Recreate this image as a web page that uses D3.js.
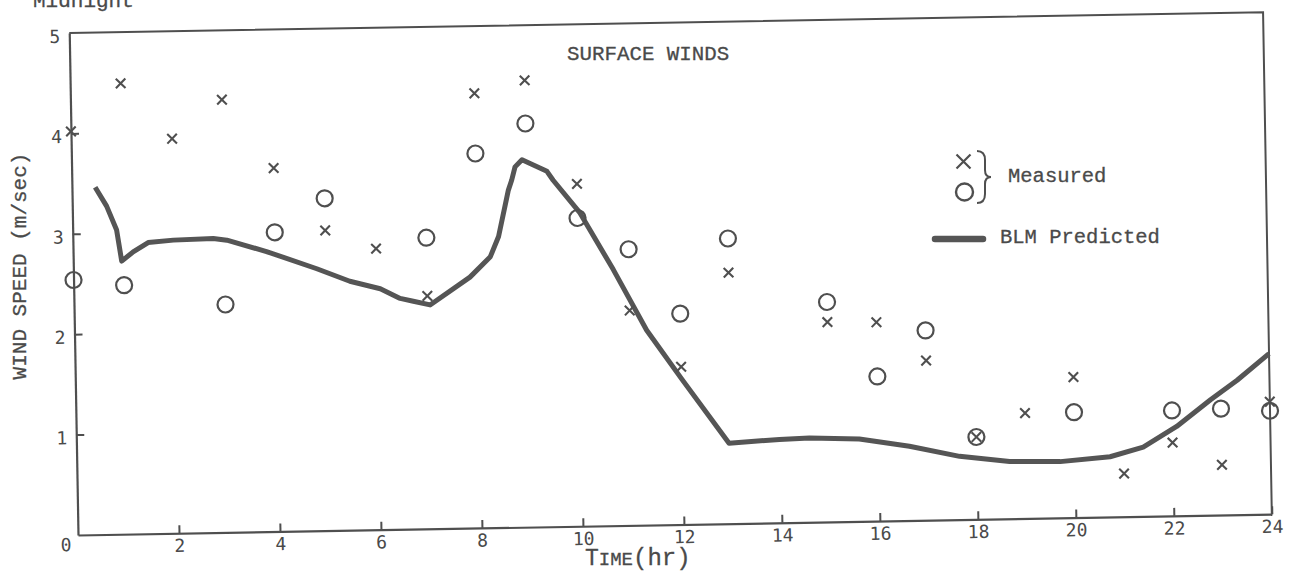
<!DOCTYPE html>
<html>
<head>
<meta charset="utf-8">
<script src="https://cdn.jsdelivr.net/npm/d3@7"></script>
<style>
  body { margin: 0; background: #fff; }
  svg { display: block; }
  .tick text { font-family: "DejaVu Sans Mono", monospace; font-size: 18px; fill: #4a4a4a; }
  .typed { font-family: "Liberation Mono", "Courier New", monospace; fill: #4a4a4a; stroke: #4a4a4a; stroke-width: 0.3px; }
</style>
</head>
<body>
<div class="chart"></div>
<script>
var svgWidth = 1303;
var svgHeight = 574;
var ink = "#4f4f4f";

// measured winds, "x" marks
var crossHours  = [0, 1, 2, 3, 4, 5, 6, 7, 8, 9, 10, 11, 12, 13, 15, 16, 17, 18, 19, 20, 21, 22, 23, 24];
var crossSpeeds = [4.02, 4.49, 3.93, 4.31, 3.62, 2.99, 2.80, 2.32, 4.33, 4.45, 3.41, 2.14, 1.57, 2.50,
                   1.99, 1.98, 1.59, 0.82, 1.05, 1.40, 0.43, 0.73, 0.50, 1.12];

// measured winds, "o" marks
var circleHours  = [0, 1, 3, 4, 5, 7, 8, 9, 10, 11, 12, 13, 15, 16, 17, 18, 20, 22, 23, 24];
var circleSpeeds = [2.54, 2.48, 2.27, 2.98, 3.31, 2.90, 3.73, 4.02, 3.07, 2.75, 2.10, 2.84,
                    2.19, 1.44, 1.89, 0.82, 1.05, 1.05, 1.06, 1.03];

// BLM predicted curve
var blmHours  = [0.46, 0.68, 0.87, 0.96, 1.19, 1.49, 1.99, 2.78, 3.05, 3.83, 4.82, 5.47, 6.07, 6.46, 6.72,
                 7.05, 7.85, 8.26, 8.43, 8.64, 8.71, 8.78, 8.92, 9.41, 9.53, 10.05, 10.69, 11.33, 12.02,
                 12.95, 13.98, 14.59, 15.61, 16.63, 17.65, 18.67, 19.70, 20.72, 21.40, 22.09, 22.79, 23.34, 24.0];
var blmSpeeds = [3.46, 3.27, 3.03, 2.72, 2.81, 2.90, 2.92, 2.93, 2.91, 2.79, 2.61, 2.48, 2.40, 2.30, 2.27,
                 2.23, 2.50, 2.70, 2.90, 3.36, 3.46, 3.59, 3.66, 3.54, 3.45, 3.12, 2.55, 1.94, 1.44,
                 0.80, 0.83, 0.84, 0.82, 0.74, 0.63, 0.57, 0.56, 0.60, 0.69, 0.89, 1.15, 1.34, 1.60];

var xTicks = [2, 4, 6, 8, 10, 12, 14, 16, 18, 20, 22, 24];
var yTicks = [1, 2, 3, 4, 5];

var svg = d3.select(".chart").append("svg")
  .attr("width", svgWidth)
  .attr("height", svgHeight);

// the scanned page sits a little tilted, so the plot group is turned by one degree
var chartGroup = svg.append("g")
  .attr("transform", "translate(78,535) rotate(-1)");

// hand drawn axis: the hours are a bit wider before noon than after
var xScale = d3.scaleLinear().domain([0, 12, 24]).range([0, 606, 1194]);
var yScale = d3.scaleLinear().domain([0, 5]).range([0, -502]);

var bottomAxis = d3.axisBottom(xScale)
  .tickValues(xTicks)
  .tickFormat(d3.format("d"))
  .tickSizeInner(-8)
  .tickSizeOuter(0)
  .tickPadding(6);

var leftAxis = d3.axisLeft(yScale)
  .tickValues(yTicks)
  .tickFormat(d3.format("d"))
  .tickSizeInner(-8)
  .tickSizeOuter(0)
  .tickPadding(9);

var xAxis = chartGroup.append("g").call(bottomAxis);
var yAxis = chartGroup.append("g").call(leftAxis);

[xAxis, yAxis].forEach(function(ax) {
  ax.select(".domain").attr("stroke", ink).attr("stroke-width", 2.2);
  ax.selectAll(".tick line").attr("stroke", ink).attr("stroke-width", 2);
});
yAxis.selectAll(".tick text").attr("dy", "0.5em");
yAxis.selectAll(".tick").filter(d => d === 5).select("line").remove();

chartGroup.append("text")
  .attr("x", xScale(0) - 12)
  .attr("y", 16)
  .attr("text-anchor", "middle")
  .style("font-family", "DejaVu Sans Mono")
  .style("font-size", "18px")
  .attr("fill", "#4a4a4a")
  .text("0");

// frame: top and right sides
chartGroup.append("path")
  .attr("d", `M${xScale(0)},${yScale(5)} L${xScale(24)},${yScale(5)} L${xScale(24)},${yScale(0)}`)
  .attr("fill", "none")
  .attr("stroke", ink)
  .attr("stroke-width", 2);

// predicted line
var blmData = blmHours.map((h, i) => ({ hour: h, speed: blmSpeeds[i] }));
var line = d3.line()
  .x(d => xScale(d.hour))
  .y(d => yScale(d.speed));

chartGroup.append("path")
  .datum(blmData)
  .attr("d", line)
  .attr("fill", "none")
  .attr("stroke", "#555")
  .attr("stroke-width", 5)
  .attr("stroke-linejoin", "round");

// measured circles
chartGroup.append("g").selectAll("circle")
  .data(circleHours.map((h, i) => ({ hour: h, speed: circleSpeeds[i] })))
  .enter()
  .append("circle")
  .attr("cx", d => xScale(d.hour))
  .attr("cy", d => yScale(d.speed))
  .attr("r", 8)
  .attr("fill", "none")
  .attr("stroke", ink)
  .attr("stroke-width", 2.2);

// measured crosses
function crossPath(cx, cy, s) {
  return `M${cx - s},${cy - s} L${cx + s},${cy + s} M${cx - s},${cy + s} L${cx + s},${cy - s}`;
}

chartGroup.append("g").selectAll("path")
  .data(crossHours.map((h, i) => ({ hour: h, speed: crossSpeeds[i] })))
  .enter()
  .append("path")
  .attr("d", d => crossPath(xScale(d.hour), yScale(d.speed), 4.8))
  .attr("fill", "none")
  .attr("stroke", ink)
  .attr("stroke-width", 2.1);

// text on the page ("Midnight" is cut by the top of the scan)
svg.append("text")
  .attr("class", "typed")
  .attr("x", 33)
  .attr("y", 7)
  .style("font-size", "21px")
  .text("Midnight");

svg.append("text")
  .attr("class", "typed")
  .attr("x", 567)
  .attr("y", 60)
  .style("font-size", "20.8px")
  .text("SURFACE WINDS");

svg.append("text")
  .attr("class", "typed")
  .attr("transform", "translate(26,266) rotate(-90)")
  .attr("text-anchor", "middle")
  .style("font-size", "21px")
  .text("WIND SPEED (m/sec)");

var timeLabel = svg.append("text")
  .attr("class", "typed")
  .attr("x", 585)
  .attr("y", 565);
timeLabel.append("tspan").style("font-size", "23px").text("T");
timeLabel.append("tspan").style("font-size", "19px").text("IME");
timeLabel.append("tspan").style("font-size", "24px").text("(hr)");

// legend
var legend = svg.append("g");

legend.append("path")
  .attr("d", crossPath(963.5, 161.5, 7))
  .attr("fill", "none")
  .attr("stroke", ink)
  .attr("stroke-width", 2.2);

legend.append("circle")
  .attr("cx", 964.5)
  .attr("cy", 192)
  .attr("r", 8.5)
  .attr("fill", "none")
  .attr("stroke", ink)
  .attr("stroke-width", 2.4);

legend.append("path")
  .attr("d", "M977,151 Q985,151 985,160 L985,170 Q985,177 991,177 Q985,177 985,184 L985,194 Q985,203 977,203")
  .attr("fill", "none")
  .attr("stroke", ink)
  .attr("stroke-width", 2);

legend.append("text")
  .attr("class", "typed")
  .attr("x", 1008)
  .attr("y", 182)
  .style("font-size", "20.5px")
  .text("Measured");

legend.append("line")
  .attr("x1", 935).attr("y1", 239)
  .attr("x2", 983).attr("y2", 239)
  .attr("stroke", "#555")
  .attr("stroke-width", 6.5)
  .attr("stroke-linecap", "round");

legend.append("text")
  .attr("class", "typed")
  .attr("x", 1000)
  .attr("y", 243)
  .style("font-size", "20.5px")
  .text("BLM Predicted");
</script>
</body>
</html>
